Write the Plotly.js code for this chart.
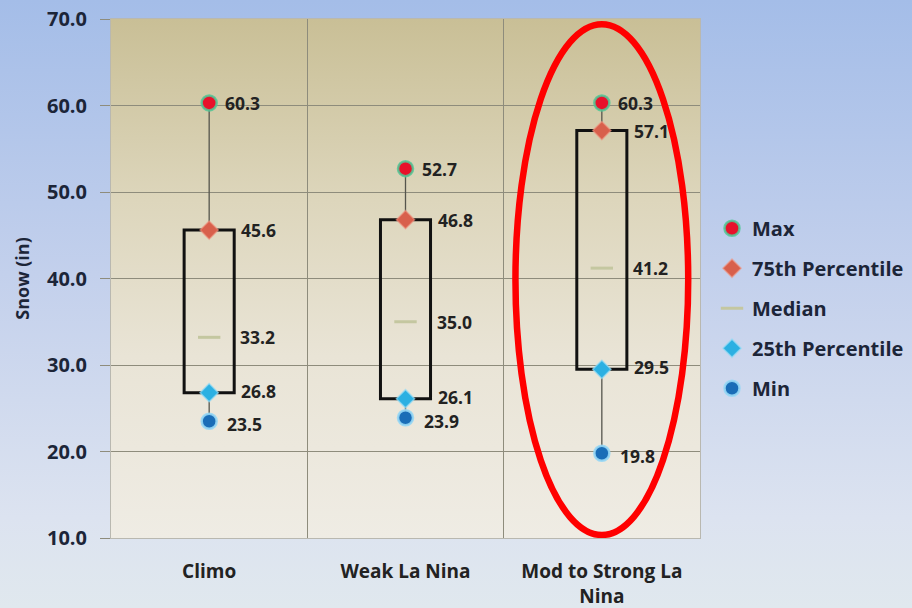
<!DOCTYPE html>
<html>
<head>
<meta charset="utf-8">
<script src="https://cdn.plot.ly/plotly-3.0.1.min.js"></script>
<style>
  html, body { margin: 0; padding: 0; width: 912px; height: 608px; overflow: hidden; }
  body { background: linear-gradient(to bottom, #a4bde8 0%, #c3d0ec 45%, #dce3f0 85%, #e0e8ee 100%); position: relative; }
  #plotbg { position: absolute; left: 111px; top: 19px; width: 589px; height: 519px;
            background: linear-gradient(to bottom, #c9bf96 0%, #ddd6bc 35%, #e9e4d6 65%, #efece4 100%); }
  #chart { position: absolute; left: 0; top: 0; width: 912px; height: 608px; }
</style>
</head>
<body>
<div id="plotbg"></div>
<div id="chart"></div>
<script>
// ---- data ----
const categories = ["Climo", "Weak La Nina", "Mod to Strong La<br>Nina"];
const maxVals    = [60.3, 52.7, 60.3];
const p75Vals    = [45.6, 46.8, 57.1];
const medianVals = [33.2, 35.0, 41.2];
const p25Vals    = [26.8, 26.1, 29.5];
const minVals    = [23.5, 23.9, 19.8];
const yTicks     = [10, 20, 30, 40, 50, 60, 70];

// ---- whisker segments: max->p75 and p25->min ----
const wx = [], wy = [];
categories.forEach((c, i) => {
  wx.push(c, c, null, c, c, null);
  wy.push(maxVals[i], p75Vals[i], null, p25Vals[i], minVals[i], null);
});

const FAM = "Open Sans, DejaVu Sans, sans-serif";
const labelFont = { family: FAM, size: 17.5, color: "#222222", weight: 700 };

const traces = [
  { type: "scatter", mode: "lines", x: wx, y: wy, showlegend: false, hoverinfo: "skip",
    line: { color: "#55554d", width: 1.3 } },
  { type: "bar", x: categories, base: p25Vals,
    y: p75Vals.map((v, i) => v - p25Vals[i]), width: 0.255, showlegend: false, hoverinfo: "skip",
    marker: { color: "rgba(0,0,0,0)", line: { color: "#111111", width: 3 } } },
  { type: "scatter", mode: "markers", name: "Max", x: categories, y: maxVals, legendgroup: "a",
    marker: { symbol: "circle", size: 15, color: "#e8112b", line: { color: "rgba(80,200,150,0.85)", width: 2.5 } } },
  { type: "scatter", mode: "markers", name: "75th Percentile", x: categories, y: p75Vals, legendgroup: "b",
    marker: { symbol: "diamond", size: 14, color: "#d8604c", line: { color: "rgba(240,150,130,0.6)", width: 1.5 } } },
  { type: "scatter", mode: "markers", name: "Median", x: categories, y: medianVals, legendgroup: "c",
    marker: { symbol: "line-ew", size: 16, line: { color: "#c4c7a0", width: 3 } } },
  { type: "scatter", mode: "markers", name: "25th Percentile", x: categories, y: p25Vals, legendgroup: "d",
    marker: { symbol: "diamond", size: 14, color: "#2cb0e2", line: { color: "rgba(150,220,245,0.7)", width: 1.5 } } },
  { type: "scatter", mode: "markers", name: "Min", x: categories, y: minVals, legendgroup: "e",
    marker: { symbol: "circle", size: 15, color: "#1a6db7", line: { color: "rgba(150,215,245,0.9)", width: 2.5 } } }
];

// ---- value labels (label offset right, small vertical nudge) ----
const annotations = [];
const series = [[maxVals, 15, 0], [p75Vals, 31, 0], [medianVals, 30, 0], [p25Vals, 31, 2], [minVals, 17, -3]];
series.forEach(([vals, shift, ys]) => {
  vals.forEach((v, i) => {
    annotations.push({ x: categories[i], y: v, text: v.toFixed(1), showarrow: false, borderpad: 0,
      xanchor: "left", yanchor: "middle", xshift: shift, yshift: ys, font: labelFont });
  });
});

const layout = {
  width: 912, height: 608,
  margin: { l: 111, r: 212, t: 19, b: 70 },
  paper_bgcolor: "rgba(0,0,0,0)", plot_bgcolor: "rgba(0,0,0,0)",
  font: { family: FAM, color: "#1c2538" },
  showlegend: true,
  barmode: "overlay",
  xaxis: {
    type: "category", tickson: "boundaries", showgrid: true, gridcolor: "#8e8c7c", gridwidth: 1,
    ticks: "", showline: true, mirror: true, linecolor: "#b9b8b0", linewidth: 1,
    range: [-0.5, 2.5], ticklabelstandoff: 16, zeroline: false, automargin: false,
    tickfont: { size: 19, color: "#222222", weight: 700, family: FAM }
  },
  yaxis: {
    range: [10, 70], tickvals: yTicks, tickformat: ".1f", showgrid: true, automargin: false,
    gridcolor: "#8e8c7c", gridwidth: 1, ticks: "outside", ticklen: 10, tickcolor: "#8e8c7c",
    showline: true, mirror: true, linecolor: "#b9b8b0", zeroline: false, ticklabelstandoff: 9,
    tickfont: { size: 20, color: "#1c2538", weight: 700, family: FAM },
    title: { text: "Snow (in)", standoff: 12,
      font: { size: 18, color: "#1c2538", weight: 700, family: FAM } }
  },
  legend: {
    xref: "container", yref: "container",
    x: 0.7807, xanchor: "left", y: 0.493, yanchor: "middle",
    bgcolor: "rgba(0,0,0,0)", tracegroupgap: 11, itemwidth: 30,
    font: { size: 20, color: "#1c2538", weight: 700, family: FAM }
  },
  annotations: annotations,
  shapes: [
    { type: "circle", xref: "x", yref: "y", x0: 2 - 0.44, x1: 2 + 0.44, y0: 10.35, y1: 69.4,
      line: { color: "#ff0000", width: 6.5 }, layer: "above" }
  ]
};

Plotly.newPlot("chart", traces, layout, { displayModeBar: false, staticPlot: true });
</script>
</body>
</html>
